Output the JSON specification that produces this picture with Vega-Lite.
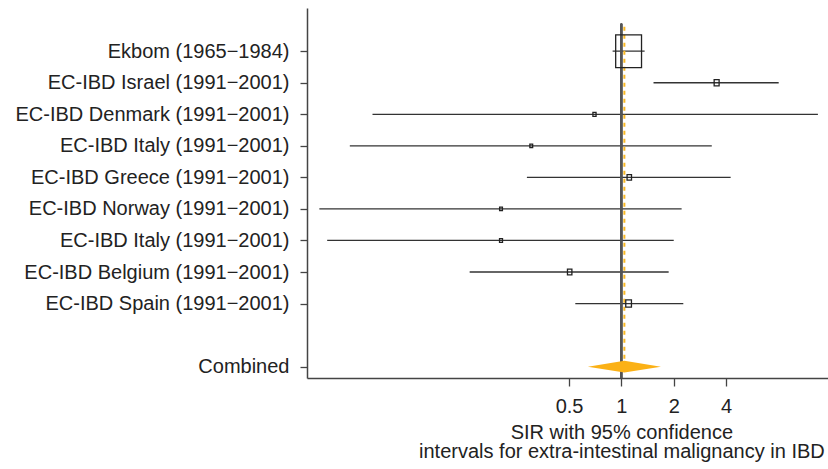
{
  "$schema": "https://vega.github.io/schema/vega-lite/v6.json",
  "width": 521,
  "height": 370,
  "autosize": {"type": "none"},
  "padding": {"left": 307, "top": 8, "right": 0, "bottom": 91},
  "background": "white",
  "config": {
    "view": {"stroke": null},
    "font": "Liberation Sans",
    "axis": {
      "domainColor": "#444444",
      "domainWidth": 1.5,
      "tickColor": "#444444",
      "tickWidth": 1.3,
      "labelColor": "#222222",
      "labelFont": "Liberation Sans",
      "labelFontSize": 20,
      "labelLimit": 0,
      "titleFont": "Liberation Sans",
      "titleFontSize": 20,
      "titleFontWeight": "normal",
      "titleColor": "#222222",
      "grid": false
    }
  },
  "data": {
    "values": [
      {"study": "Ekbom (1965−1984)", "row": 11, "est": 1.10, "lo": 0.89, "hi": 1.36, "weight": 68, "kind": "study"},
      {"study": "EC-IBD Israel (1991−2001)", "row": 10, "est": 3.53, "lo": 1.53, "hi": 8.03, "weight": 2.5, "kind": "study"},
      {"study": "EC-IBD Denmark (1991−2001)", "row": 9, "est": 0.70, "lo": 0.037, "hi": 13.5, "weight": 1.0, "kind": "study"},
      {"study": "EC-IBD Italy (1991−2001)", "row": 8, "est": 0.303, "lo": 0.0274, "hi": 3.31, "weight": 0.8, "kind": "study"},
      {"study": "EC-IBD Greece (1991−2001)", "row": 7, "est": 1.11, "lo": 0.286, "hi": 4.25, "weight": 2.0, "kind": "study"},
      {"study": "EC-IBD Norway (1991−2001)", "row": 6, "est": 0.203, "lo": 0.0183, "hi": 2.22, "weight": 0.8, "kind": "study"},
      {"study": "EC-IBD Italy (1991−2001)", "row": 5, "est": 0.203, "lo": 0.0203, "hi": 2.00, "weight": 0.9, "kind": "study"},
      {"study": "EC-IBD Belgium (1991−2001)", "row": 4, "est": 0.504, "lo": 0.134, "hi": 1.87, "weight": 2.0, "kind": "study"},
      {"study": "EC-IBD Spain (1991−2001)", "row": 3, "est": 1.10, "lo": 0.543, "hi": 2.27, "weight": 3.3, "kind": "study"},
      {"study": "Combined", "row": 1, "est": 1.04, "lo": 0.645, "hi": 1.69, "weight": 0, "kind": "combined"}
    ]
  },
  "layer": [
    {
      "transform": [{"filter": "datum.kind === 'study'"}],
      "mark": {"type": "rule", "color": "#333333", "strokeWidth": 1.3},
      "encoding": {
        "x": {
          "field": "lo",
          "type": "quantitative",
          "scale": {"type": "log", "domain": [0.01554, 15.43], "nice": false, "zero": false},
          "axis": {
            "values": [0.5, 1, 2, 4],
            "labelExpr": "datum.value == 0.5 ? '0.5' : format(datum.value, 'd')",
            "tickSize": 8,
            "labelBaseline": "alphabetic",
            "labelPadding": 26,
            "title": ["SIR with 95% confidence", "intervals for extra-intestinal malignancy in IBD"],
            "titleX": 314.4,
            "titleY": 60,
            "titleAlign": "center",
            "titleBaseline": "alphabetic",
            "titleLineHeight": 19
          }
        },
        "x2": {"field": "hi"},
        "y": {
          "field": "row",
          "type": "quantitative",
          "scale": {"domain": [0.64, 12.37], "nice": false, "zero": false},
          "axis": {
            "values": [1, 3, 4, 5, 6, 7, 8, 9, 10, 11],
            "tickSize": 7,
            "labelPadding": 11,
            "title": null,
            "labelExpr": "['', 'Combined', '', 'EC-IBD Spain (1991−2001)', 'EC-IBD Belgium (1991−2001)', 'EC-IBD Italy (1991−2001)', 'EC-IBD Norway (1991−2001)', 'EC-IBD Greece (1991−2001)', 'EC-IBD Italy (1991−2001)', 'EC-IBD Denmark (1991−2001)', 'EC-IBD Israel (1991−2001)', 'Ekbom (1965−1984)'][datum.value]"
          }
        }
      }
    },
    {
      "mark": {"type": "rule", "color": "#555555", "strokeWidth": 1.5},
      "encoding": {
        "x": {"datum": 1, "type": "quantitative"},
        "y": {"datum": 11.87, "type": "quantitative"},
        "y2": {"datum": 0.64}
      }
    },
    {
      "transform": [{"filter": "datum.kind === 'combined'"}],
      "mark": {"type": "rule", "color": "#F9B823", "strokeWidth": 2, "strokeDash": [4, 4]},
      "encoding": {
        "x": {"field": "est", "type": "quantitative"},
        "y": {"field": "row", "type": "quantitative"},
        "y2": {"datum": 11.87}
      }
    },
    {
      "transform": [{"filter": "datum.kind === 'study'"}],
      "mark": {
        "type": "point",
        "shape": "M-0.79,-1H0.79V1H-0.79Z",
        "filled": false,
        "stroke": "#222222",
        "strokeWidth": 1.3,
        "opacity": 1
      },
      "encoding": {
        "x": {"field": "est", "type": "quantitative"},
        "y": {"field": "row", "type": "quantitative"},
        "size": {
          "field": "weight",
          "type": "quantitative",
          "scale": {"domain": [0, 68], "range": [0, 1070]},
          "legend": null
        }
      }
    },
    {
      "transform": [{"filter": "datum.kind === 'combined'"}],
      "mark": {
        "type": "point",
        "shape": "M-1,0L0,-0.16L1,0L0,0.16Z",
        "filled": true,
        "fill": "#FBB116",
        "strokeWidth": 0,
        "opacity": 1,
        "size": 5329
      },
      "encoding": {
        "x": {"field": "est", "type": "quantitative"},
        "y": {"field": "row", "type": "quantitative"}
      }
    }
  ]
}
